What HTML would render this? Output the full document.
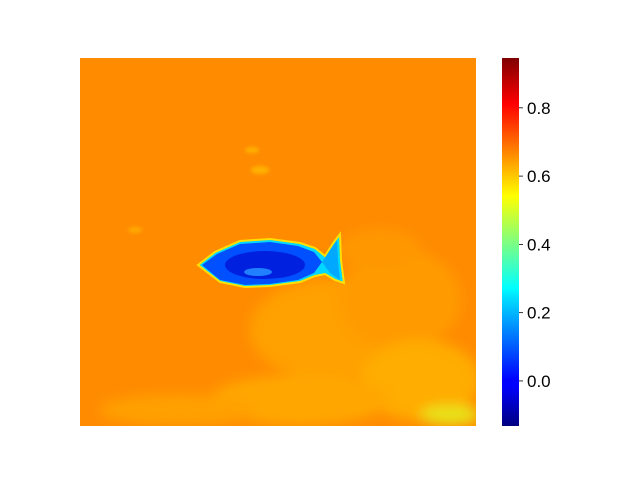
<!DOCTYPE html>
<html><head><meta charset="utf-8"><style>
body{margin:0;background:#fff;}
svg text{font-family:"Liberation Sans","DejaVu Sans",sans-serif;font-size:17px;fill:#000;}
</style></head><body>
<svg width="640" height="480" viewBox="0 0 640 480">
<defs>
<linearGradient id="jet" x1="0" y1="1" x2="0" y2="0">
<stop offset="0" stop-color="#000080"/><stop offset="0.11" stop-color="#0000ff"/>
<stop offset="0.125" stop-color="#0000ff"/><stop offset="0.35" stop-color="#00e0ff"/>
<stop offset="0.375" stop-color="#00ffff"/><stop offset="0.625" stop-color="#ffff00"/>
<stop offset="0.875" stop-color="#ff0000"/><stop offset="1" stop-color="#800000"/>
</linearGradient>
<filter id="blur" x="-20%" y="-20%" width="140%" height="140%"><feGaussianBlur stdDeviation="6"/></filter>
<filter id="blur2"><feGaussianBlur stdDeviation="1.5"/></filter>
<clipPath id="imgclip"><rect x="80" y="58" width="396" height="368"/></clipPath>
</defs>
<g clip-path="url(#imgclip)">
<rect x="80" y="58" width="396" height="368" fill="#ff8c00"/>
<g filter="url(#blur)" opacity="0.75">
<ellipse cx="330" cy="330" rx="80" ry="50" fill="#ffa800"/>
<ellipse cx="400" cy="300" rx="60" ry="50" fill="#ffa000"/>
<ellipse cx="420" cy="380" rx="60" ry="40" fill="#ffb800"/>
<ellipse cx="300" cy="400" rx="90" ry="25" fill="#ffb000"/>
<ellipse cx="180" cy="410" rx="80" ry="15" fill="#ffa800"/>
<ellipse cx="450" cy="415" rx="30" ry="10" fill="#e0ff20"/>
<ellipse cx="380" cy="250" rx="40" ry="20" fill="#ff9c00"/>
</g>
<g filter="url(#blur2)">
<ellipse cx="252" cy="150" rx="7" ry="3" fill="#ffb000"/>
<ellipse cx="260" cy="170" rx="9" ry="4" fill="#ffb000"/>
<ellipse cx="135" cy="230" rx="7" ry="3" fill="#ffa800"/>
</g>
<g>
<path d="M198,265 L215,252 L240,241 L270,239 L300,243 L315,248 L325,256 L334,242 L340,234 L341,260 L344,283 L335,280 L325,274 L315,276 L300,282 L270,286 L245,287 L220,282 Z" fill="#00d8ff" stroke="#ffe000" stroke-width="2"/>
<path d="M202,265 L217,254 L240,244 L270,242 L298,246 L314,252 L322,262 L314,273 L298,280 L270,284 L245,285 L220,280 Z" fill="#0050ff"/>
<path d="M322,262 L330,250 L337,240 L338,262 L340,280 L330,273 Z" fill="#00a8ff"/>
<ellipse cx="265" cy="265" rx="40" ry="14" fill="#0020e0"/>
<ellipse cx="258" cy="272" rx="14" ry="4" fill="#2080ff"/>
</g>
</g>
<g>
<rect x="502" y="58" width="17" height="368" fill="url(#jet)"/>
<g id="ticks"></g>
</g>
<script>
const tickValues=[0.0,0.2,0.4,0.6,0.8];
const tickLabels=["0.0","0.2","0.4","0.6","0.8"];
const vmin=-0.132, vmax=0.946;
function y(v){return 426-(v-vmin)/(vmax-vmin)*368;}
const g=document.getElementById('ticks');
tickValues.forEach((v,i)=>{
 const l=document.createElementNS('http://www.w3.org/2000/svg','line');
 l.setAttribute('x1',519);l.setAttribute('x2',523);l.setAttribute('y1',y(v));l.setAttribute('y2',y(v));
 l.setAttribute('stroke','#000');l.setAttribute('stroke-width','0.8');
 
 
 g.appendChild(l);
 const t=document.createElementNS('http://www.w3.org/2000/svg','text');
 t.setAttribute('x',527);t.setAttribute('y',y(v)+6);t.textContent=tickLabels[i];
 
 
 g.appendChild(t);
});
</script>
</svg>
</body></html>
